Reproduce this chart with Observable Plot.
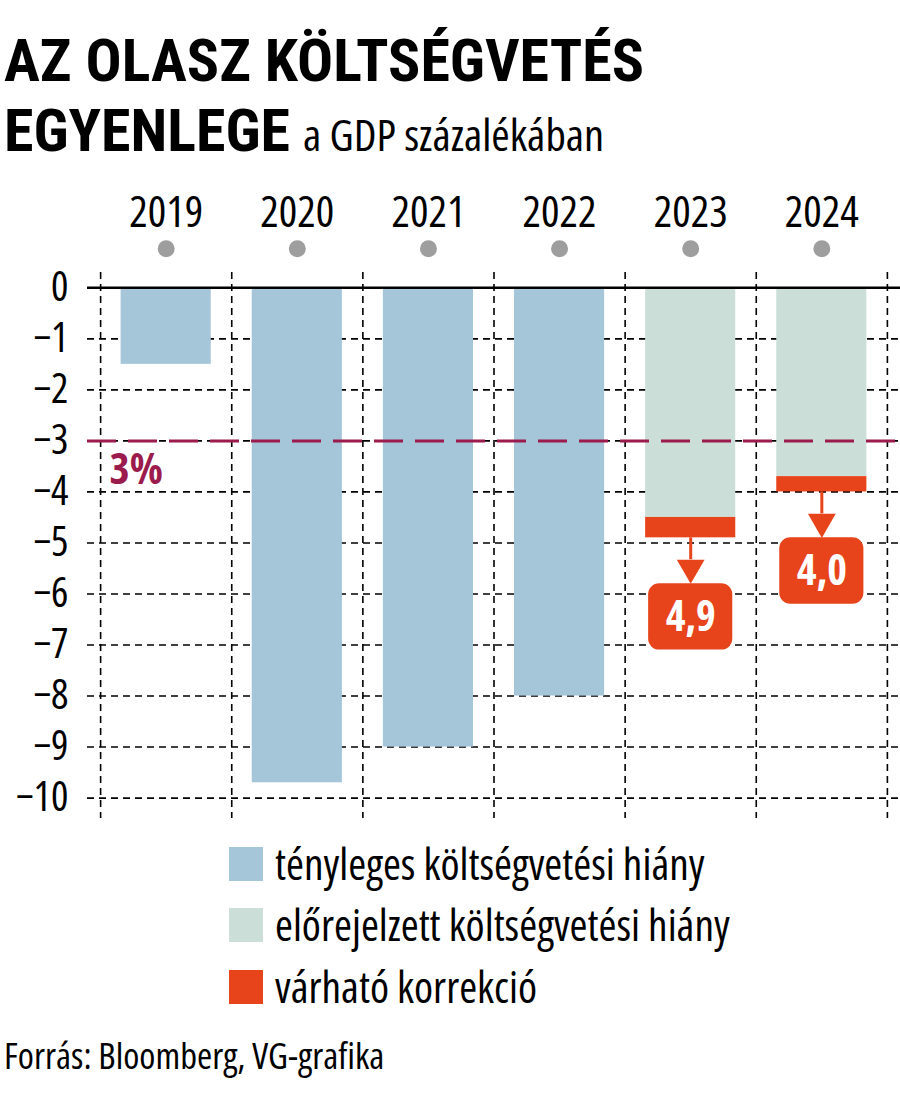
<!DOCTYPE html>
<html><head><meta charset="utf-8">
<script src="https://cdn.jsdelivr.net/npm/d3@7"></script>
<script src="https://cdn.jsdelivr.net/npm/@observablehq/plot@0.6"></script>
<style>
body{margin:0;background:#fff;width:900px;height:1098px;position:relative;overflow:hidden;
font-family:"Open Sans",sans-serif;font-stretch:75%;color:#000}
.abs{position:absolute;white-space:nowrap;line-height:1}
#t1,#t2{font-family:Roboto,sans-serif;font-stretch:75%;font-weight:bold;font-size:60px;left:4px}
#t1{top:31px}
#t2{top:101px}
#sub{font-family:"Open Sans",sans-serif;font-stretch:75%;font-weight:normal;font-size:44.5px;margin-left:13px}
#chart{position:absolute;left:0;top:170px}
.leg{left:229px;font-size:43.4px;display:flex;align-items:center}
.sw{width:34px;height:34px;margin-right:12px;flex:none}
#cap{left:4px;top:1037px;font-size:36.7px}
</style></head>
<body>
<div id="t1" class="abs">AZ OLASZ KÖLTSÉGVETÉS</div>
<div id="t2" class="abs">EGYENLEGE<span id="sub">a GDP százalékában</span></div>
<div id="chart"></div>
<div id="legend"></div>
<div id="cap" class="abs">Forrás: Bloomberg, VG-grafika</div>
<script>
// ---- data ----
const years = [2019, 2020, 2021, 2022, 2023, 2024];
const actualYears = [2019, 2020, 2021, 2022];
const actualValues = [-1.5, -9.7, -9.0, -8.0];
const forecastYears = [2023, 2024];
const forecastValues = [-4.5, -3.7];
const correctedValues = [-4.9, -4.0];
const yTicks = [0, -1, -2, -3, -4, -5, -6, -7, -8, -9, -10];
const threshold = -3;
const thresholdLabel = "3%";
const legendLabels = ["tényleges költségvetési hiány", "előrejelzett költségvetési hiány", "várható korrekció"];

// ---- styles ----
const C_ACT = "#a5c5d9", C_FC = "#cbdfd8", C_COR = "#e8441b", C_THR = "#9c1b4d", C_DOT = "#9e9e9e";
const FONT = '"Open Sans",sans-serif';

const actual = actualYears.map((y, i) => ({year: y, value: actualValues[i]}));
const forecast = forecastYears.map((y, i) => ({year: y, value: forecastValues[i], corr: correctedValues[i]}));
const bounds = [years[0] - 0.5, ...years.map(y => y + 0.5)];

// callout geometry in data units (~51 px per unit)
const STEM = 0.43, TRI = 0.47, BOX = 1.3;
const fmt = v => Math.abs(v).toFixed(1).replace(".", ",");
const tickFmt = d => (d < 0 ? "\u2212" : "") + Math.abs(d);

const plot = Plot.plot({
  width: 900,
  height: 660,
  marginTop: 102,
  marginBottom: 12,
  marginLeft: 87,
  marginRight: 0,
  style: {fontFamily: FONT, fontStretch: "75%", fontSize: "40px", color: "#000", background: "#fff", overflow: "visible"},
  x: {domain: [years[0] - 0.6, years[years.length - 1] + 0.6], axis: null},
  y: {domain: [-10.4, 0.3], axis: null},
  marks: [
    Plot.gridY(yTicks.slice(1), {stroke: "#000", strokeOpacity: 1, strokeWidth: 1.6, strokeDasharray: "7,5"}),
    Plot.ruleX(bounds, {stroke: "#000", strokeWidth: 1.6, strokeDasharray: "7,5"}),
    Plot.axisY(yTicks, {tickSize: 0, tickPadding: 19, fontSize: 41, fill: "#000", label: null, tickFormat: tickFmt}),
    Plot.rectY(actual, {x1: d => d.year - 0.5, x2: d => d.year + 0.5, y1: 0, y2: "value", fill: C_ACT, insetLeft: 20.5, insetRight: 20.5}),
    Plot.rectY(forecast, {x1: d => d.year - 0.5, x2: d => d.year + 0.5, y1: 0, y2: "value", fill: C_FC, insetLeft: 20.5, insetRight: 20.5}),
    Plot.rectY(forecast, {x1: d => d.year - 0.5, x2: d => d.year + 0.5, y1: "value", y2: "corr", fill: C_COR, insetLeft: 20.5, insetRight: 20.5}),
    Plot.ruleY([threshold], {stroke: C_THR, strokeWidth: 3, strokeDasharray: "29,12"}),
    Plot.text([threshold], {x: bounds[0], y: d => d, text: () => thresholdLabel, dx: 9, dy: 29, textAnchor: "start", fill: C_THR, fontWeight: "bold", fontSize: 43}),
    Plot.ruleY([0], {stroke: "#000", strokeWidth: 2.6}),
    // callouts
    Plot.ruleX(forecast, {x: "year", y1: "corr", y2: d => d.corr - STEM, stroke: C_COR, strokeWidth: 3}),
    Plot.dot(forecast, {x: "year", y: d => d.corr - STEM, dy: 8, symbol: "triangle", rotate: 180, r: 10.3, fill: C_COR, stroke: "none"}),
    Plot.rectY(forecast, {x1: d => d.year - 0.5, x2: d => d.year + 0.5, y1: d => d.corr - STEM - TRI, y2: d => d.corr - STEM - TRI - BOX, fill: C_COR, insetLeft: 23.5, insetRight: 23.5, rx: 11}),
    Plot.text(forecast, {x: "year", y: d => d.corr - STEM - TRI - BOX / 2, text: d => fmt(d.corr), fill: "#fff", fontWeight: "bold", fontSize: 42, dy: 1}),
    // year header
    Plot.text(years, {x: d => d, y: 0, dy: -75, text: d => String(d), fontSize: 43.5, fill: "#000"}),
    Plot.dot(years, {x: d => d, y: 0, dy: -39, r: 8.5, fill: C_DOT, stroke: "none"})
  ]
});
document.getElementById("chart").appendChild(plot);

const legendColors = [C_ACT, C_FC, C_COR];
const legendTops = [847, 908, 970];
const lg = document.getElementById("legend");
legendLabels.forEach((lab, i) => {
  const row = document.createElement("div");
  row.className = "abs leg";
  row.style.top = legendTops[i] + "px";
  row.style.height = "34px";
  row.innerHTML = `<div class="sw" style="background:${legendColors[i]}"></div><span>${lab}</span>`;
  lg.appendChild(row);
});
</script>
</body></html>
